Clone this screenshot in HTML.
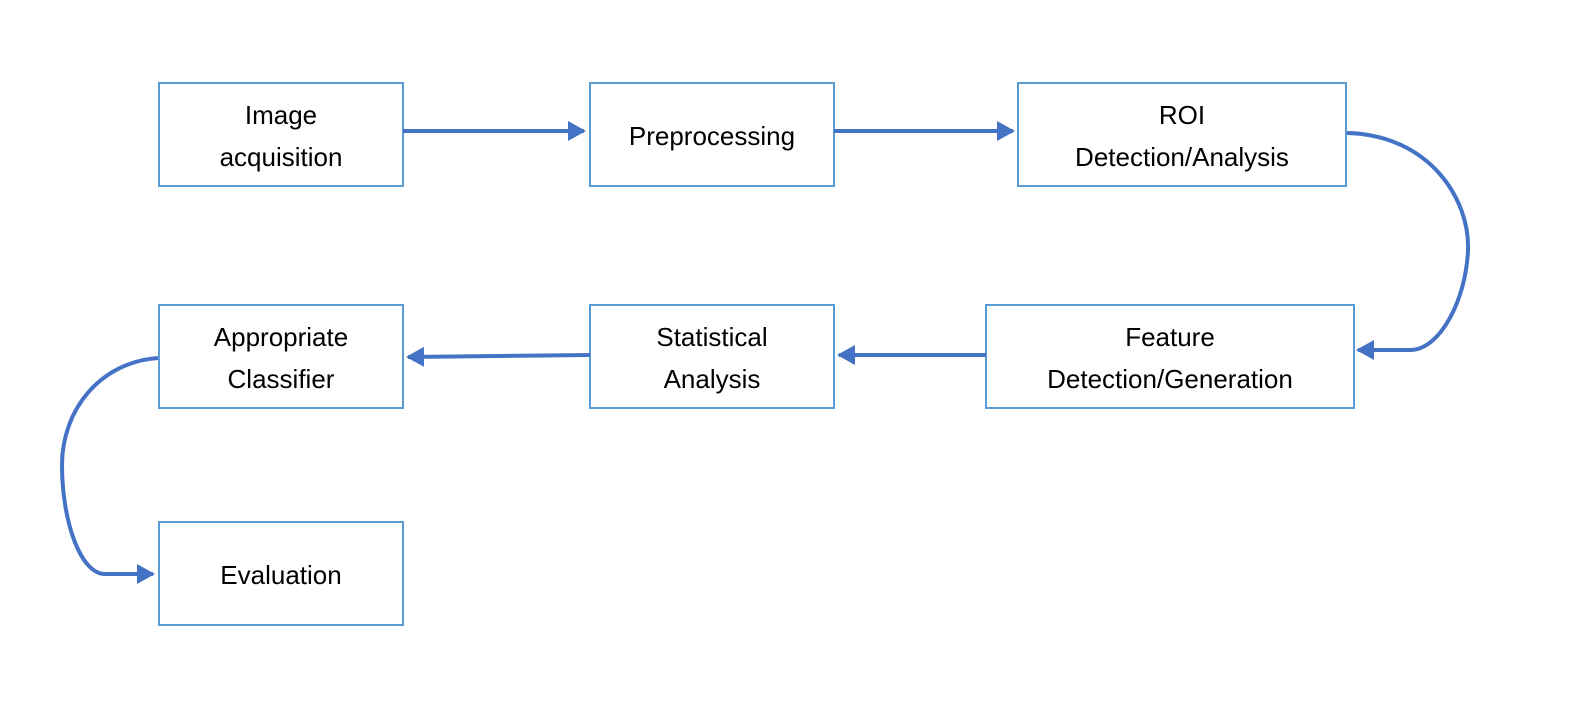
<!DOCTYPE html>
<html><head><meta charset="utf-8"><style>
body{margin:0;background:#fff;width:1570px;height:710px;overflow:hidden;}
svg text{font-family:"Liberation Sans",sans-serif;font-size:26px;fill:#000;text-anchor:middle;}
</style></head><body>
<svg width="1570" height="710" viewBox="0 0 1570 710">
<defs><marker id="a" markerWidth="5" markerHeight="5" refX="4" refY="2.5" orient="auto" markerUnits="strokeWidth"><path d="M0,0 L4.5,2.5 L0,5 z" fill="#4472c4"/></marker></defs>
<g fill="none" stroke="#5b9bd5" stroke-width="2">
<rect x="159" y="83" width="244" height="103"/>
<rect x="590" y="83" width="244" height="103"/>
<rect x="1018" y="83" width="328" height="103"/>
<rect x="986" y="305" width="368" height="103"/>
<rect x="590" y="305" width="244" height="103"/>
<rect x="159" y="305" width="244" height="103"/>
<rect x="159" y="522" width="244" height="103"/>
</g>
<g fill="none" stroke="#4472c4" stroke-width="4" marker-end="url(#a)">
<line x1="403" y1="131" x2="584" y2="131"/>
<line x1="834" y1="131" x2="1013" y2="131"/>
<path d="M1347,133 C1430,135 1470,200 1468,250 C1466,300 1440,350 1410,350 L1358,350"/>
<line x1="986" y1="355" x2="839" y2="355"/>
<line x1="590" y1="355" x2="408" y2="357"/>
<path d="M158,358 C100,362 62,410 62,465 C62,520 80,574 105,574 L153,574"/>
</g>
<text x="281" y="124">Image</text><text x="281" y="166">acquisition</text>
<text x="712" y="145">Preprocessing</text>
<text x="1182" y="124">ROI</text><text x="1182" y="166">Detection/Analysis</text>
<text x="1170" y="346">Feature</text><text x="1170" y="388">Detection/Generation</text>
<text x="712" y="346">Statistical</text><text x="712" y="388">Analysis</text>
<text x="281" y="346">Appropriate</text><text x="281" y="388">Classifier</text>
<text x="281" y="584">Evaluation</text>
</svg>
</body></html>
